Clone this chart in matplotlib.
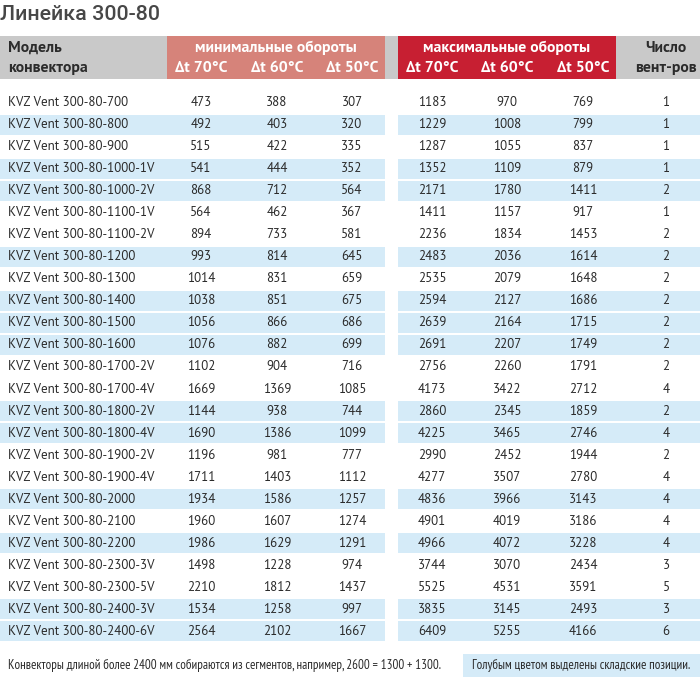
import matplotlib.pyplot as plt
from matplotlib.patches import Rectangle

MAIN_FONT = ['PT Sans', 'Fira Sans', 'Lato', 'DejaVu Sans']
NARROW_FONT = ['PT Sans Narrow', 'Fira Sans Extra Condensed', 'Fira Sans Condensed', 'DejaVu Sans']
TITLE_FONT = ['Roboto', 'DejaVu Sans']
plt.rcParams['font.family'] = MAIN_FONT

title = 'Линейка 300-80'
models = [
    'KVZ Vent 300-80-700', 'KVZ Vent 300-80-800', 'KVZ Vent 300-80-900',
    'KVZ Vent 300-80-1000-1V', 'KVZ Vent 300-80-1000-2V',
    'KVZ Vent 300-80-1100-1V', 'KVZ Vent 300-80-1100-2V',
    'KVZ Vent 300-80-1200', 'KVZ Vent 300-80-1300', 'KVZ Vent 300-80-1400',
    'KVZ Vent 300-80-1500', 'KVZ Vent 300-80-1600',
    'KVZ Vent 300-80-1700-2V', 'KVZ Vent 300-80-1700-4V',
    'KVZ Vent 300-80-1800-2V', 'KVZ Vent 300-80-1800-4V',
    'KVZ Vent 300-80-1900-2V', 'KVZ Vent 300-80-1900-4V',
    'KVZ Vent 300-80-2000', 'KVZ Vent 300-80-2100', 'KVZ Vent 300-80-2200',
    'KVZ Vent 300-80-2300-3V', 'KVZ Vent 300-80-2300-5V',
    'KVZ Vent 300-80-2400-3V', 'KVZ Vent 300-80-2400-6V',
]
min_70 = [473, 492, 515, 541, 868, 564, 894, 993, 1014, 1038, 1056, 1076, 1102,
          1669, 1144, 1690, 1196, 1711, 1934, 1960, 1986, 1498, 2210, 1534, 2564]
min_60 = [388, 403, 422, 444, 712, 462, 733, 814, 831, 851, 866, 882, 904,
          1369, 938, 1386, 981, 1403, 1586, 1607, 1629, 1228, 1812, 1258, 2102]
min_50 = [307, 320, 335, 352, 564, 367, 581, 645, 659, 675, 686, 699, 716,
          1085, 744, 1099, 777, 1112, 1257, 1274, 1291, 974, 1437, 997, 1667]
max_70 = [1183, 1229, 1287, 1352, 2171, 1411, 2236, 2483, 2535, 2594, 2639, 2691,
          2756, 4173, 2860, 4225, 2990, 4277, 4836, 4901, 4966, 3744, 5525, 3835, 6409]
max_60 = [970, 1008, 1055, 1109, 1780, 1157, 1834, 2036, 2079, 2127, 2164, 2207,
          2260, 3422, 2345, 3465, 2452, 3507, 3966, 4019, 4072, 3070, 4531, 3145, 5255]
max_50 = [769, 799, 837, 879, 1411, 917, 1453, 1614, 1648, 1686, 1715, 1749,
          1791, 2712, 1859, 2746, 1944, 2780, 3143, 3186, 3228, 2434, 3591, 2493, 4166]
fans = [1, 1, 1, 1, 2, 1, 2, 2, 2, 2, 2, 2, 2, 4, 2, 4, 2, 4, 4, 4, 4, 3, 5, 3, 6]
# складские позиции (голубые строки)
in_stock = [0, 1, 0, 1, 1, 0, 0, 1, 0, 1, 1, 1, 0, 0, 1, 1, 0, 0, 1, 0, 1, 0, 0, 1, 1]

header_model = ['Модель', 'конвектора']
header_min = 'минимальные обороты'
header_max = 'максимальные обороты'
header_dt = ['Δt 70°C', 'Δt 60°C', 'Δt 50°C']
header_fans = ['Число', 'вент-ров']
note_left = 'Конвекторы длиной более 2400 мм собираются из сегментов, например, 2600 = 1300 + 1300.'
note_right = 'Голубым цветом выделены складские позиции.'

GRAY = '#c9c9c9'
PINK = '#d6837a'
RED = '#c71f32'
BLUE = '#d5ebf8'
TEXT = '#2b2b2b'

W, H = 700, 677
fig = plt.figure(figsize=(W / 100, H / 100), dpi=100)
ax = fig.add_axes([0, 0, 1, 1])
ax.set_xlim(0, W)
ax.set_ylim(H, 0)
ax.axis('off')
renderer = fig.canvas.get_renderer()


def fit_size(s, width_px, base=10, **kw):
    """font size at which text s is width_px pixels wide"""
    t = ax.text(0, 0, s, fontsize=base, **kw)
    w = t.get_window_extent(renderer).width
    t.remove()
    return base * width_px / w


# layout
col_min = [201, 277, 352]
col_max = [432, 507, 583]
col_fans = 666
row0, pitch = 102.5, 22.04
left_span = (0, 385)
right_span = (398, 700)

fs_title = min(fit_size(title, 159, fontweight='medium', family=TITLE_FONT), 16)
ax.text(0, 15, title, fontsize=fs_title, fontweight='medium', color='#474747',
        va='center', ha='left', family=TITLE_FONT)

# header bands
hy0, hy1 = 36, 79
ax.add_patch(Rectangle((0, hy0), W, hy1 - hy0, color=GRAY, lw=0))
ax.add_patch(Rectangle((167, hy0), 218, hy1 - hy0, color=PINK, lw=0))
ax.add_patch(Rectangle((398, hy0), 218, hy1 - hy0, color=RED, lw=0))

fs_hdr = min(fit_size(header_min, 162, fontweight='bold'), 12)
hdr = dict(fontsize=fs_hdr, fontweight='bold', va='center')
line1, line2 = 48, 68
ax.text(8, line1, header_model[0], ha='left', color=TEXT, **hdr)
ax.text(8, line2, header_model[1], ha='left', color=TEXT, **hdr)
ax.text(col_fans, line1, header_fans[0], ha='center', color=TEXT, **hdr)
ax.text(col_fans, line2, header_fans[1], ha='center', color=TEXT, **hdr)
ax.text(276, line1, header_min, ha='center', color='white', **hdr)
ax.text(507, line1, header_max, ha='center', color='white', **hdr)
for i, lab in enumerate(header_dt):
    ax.text(col_min[i], line2, lab, ha='center', color='white', **hdr)
    ax.text(col_max[i], line2, lab, ha='center', color='white', **hdr)

# rows
fs_cell = min(fit_size('KVZ Vent 300-80-1000-1V', 148), 10.5)
cell = dict(fontsize=fs_cell, color=TEXT, va='center')
for r, name in enumerate(models):
    y = row0 + r * pitch
    if in_stock[r]:
        for x0, x1 in (left_span, right_span):
            ax.add_patch(Rectangle((x0, y - 10), x1 - x0, 20, color=BLUE, lw=0))
    ax.text(8, y, name, ha='left', **cell)
    for cx, vals in zip(col_min, (min_70, min_60, min_50)):
        ax.text(cx, y, str(vals[r]), ha='center', **cell)
    for cx, vals in zip(col_max, (max_70, max_60, max_50)):
        ax.text(cx, y, str(vals[r]), ha='center', **cell)
    ax.text(col_fans, y, str(fans[r]), ha='center', **cell)

# footer
ax.add_patch(Rectangle((463, 654), 237, 23, color=BLUE, lw=0))
fs_foot = min(fit_size(note_left, 435, family=NARROW_FONT), 9.5)
foot = dict(fontsize=fs_foot, color=TEXT, va='center', family=NARROW_FONT)
ax.text(8, 665.5, note_left, ha='left', **foot)
ax.text(472, 665.5, note_right, ha='left', **foot)

fig.savefig('out.png', dpi=100)
